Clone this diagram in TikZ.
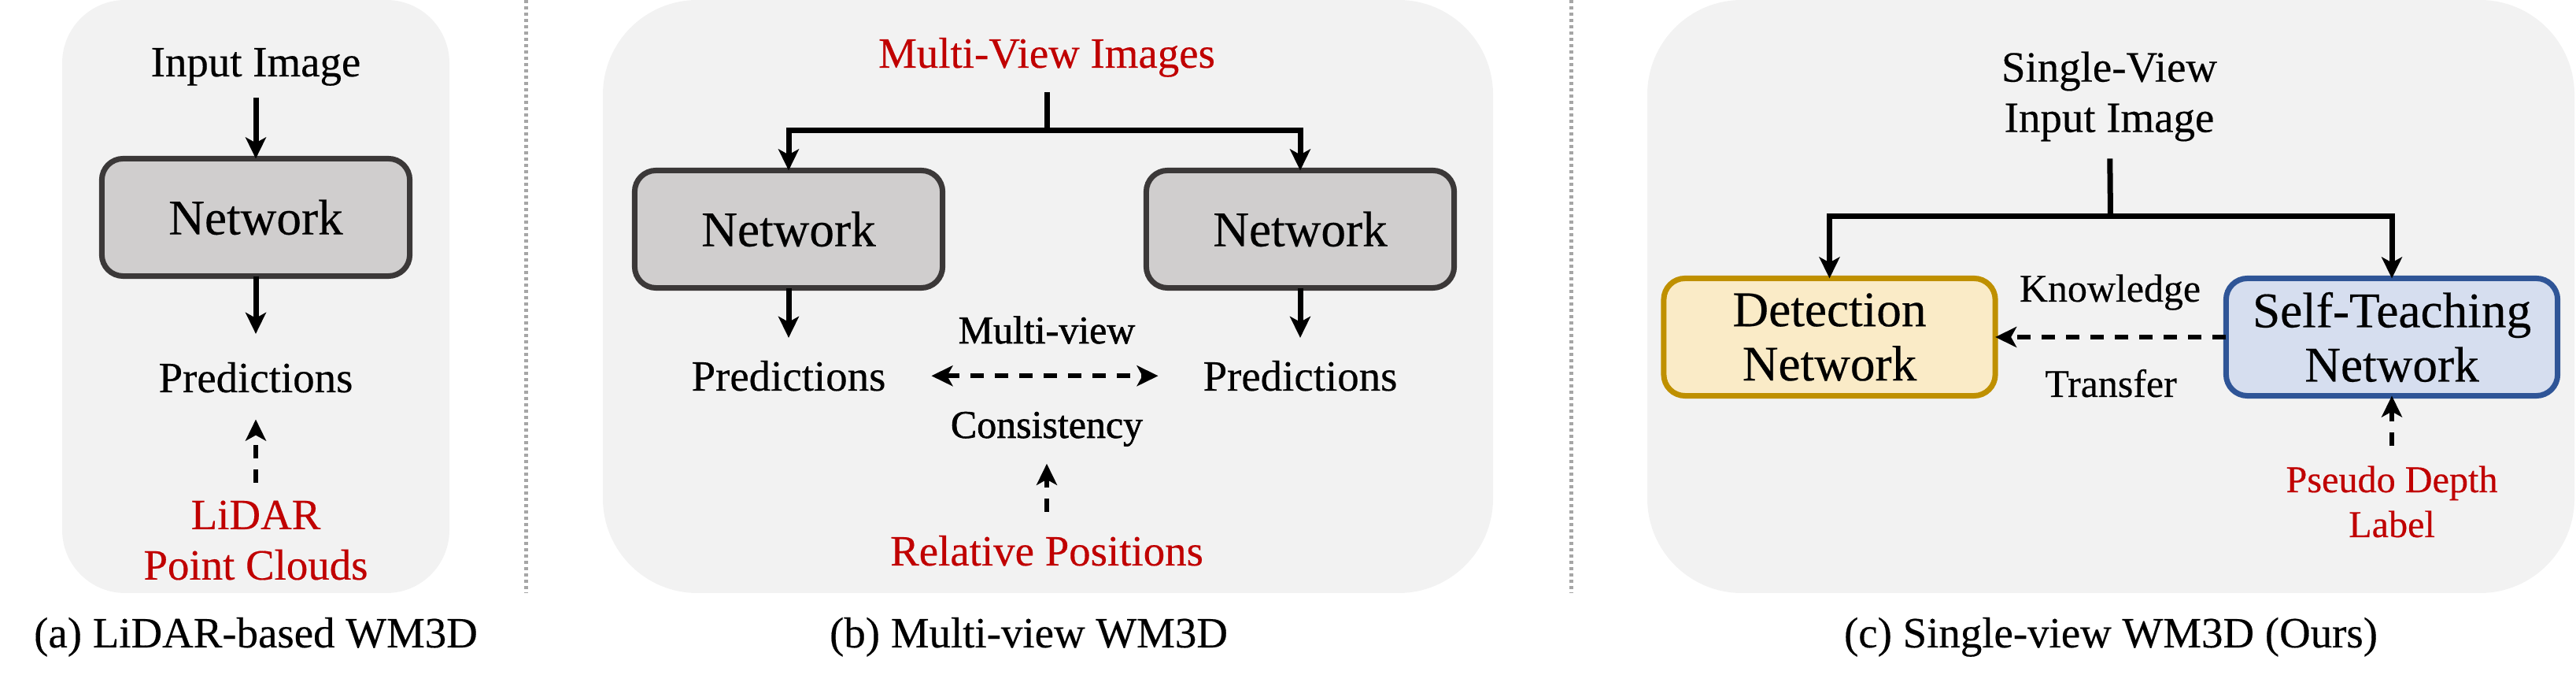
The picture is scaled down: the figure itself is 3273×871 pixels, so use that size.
\documentclass[tikz,border=0pt]{standalone}
\usepackage{fontspec}
\setmainfont{Liberation Serif}[FakeBold=0.3]
\newfontfamily\mvfont{Liberation Serif}[FakeBold=1.2]
\usetikzlibrary{arrows.meta}
\definecolor{panelbg}{HTML}{F2F2F2}
\definecolor{netfill}{HTML}{D0CECE}
\definecolor{netdraw}{HTML}{3B3838}
\definecolor{detfill}{HTML}{FAEBC7}
\definecolor{detdraw}{HTML}{BF9000}
\definecolor{stfill}{HTML}{D6DEEF}
\definecolor{stdraw}{HTML}{2F5597}
\definecolor{redtxt}{HTML}{C00000}
\definecolor{sepgray}{HTML}{A6A6A6}
\begin{document}
\begin{tikzpicture}[x=0.01cm,y=-0.01cm,
  panel/.style={fill=panelbg},
  sepline/.style={draw=sepgray, line width=0.05cm, dash pattern=on 0.04cm off 0.04cm},
  txt/.style={inner sep=0pt, outer sep=0pt, font=\fontsize{15.6pt}{18.2pt}\selectfont},
  smalltxt/.style={inner sep=0pt, outer sep=0pt, font=\fontsize{14.2pt}{17pt}\selectfont},
  mvtxt/.style={inner sep=0pt, outer sep=0pt, font=\mvfont\fontsize{14.2pt}{17pt}\selectfont},
  pstxt/.style={inner sep=0pt, outer sep=0pt, font=\fontsize{13.7pt}{16.2pt}\selectfont},
  redl/.style={text=redtxt},
  netbox/.style={draw=netdraw, fill=netfill, line width=0.07cm, rounded corners=0.27cm,
    minimum width=3.91cm, minimum height=1.49cm, inner sep=0pt, outer sep=0pt,
    font=\fontsize{18pt}{19.6pt}\selectfont},
  detbox/.style={netbox, draw=detdraw, fill=detfill, minimum width=4.21cm, align=center},
  stbox/.style={netbox, draw=stdraw, fill=stfill, minimum width=4.21cm, align=center},
  ln/.style={line width=0.07cm},
  tipa/.tip={Stealth[length=0.27cm,width=0.26cm,inset=0.07cm]},
  arr/.style={ln, -tipa},
  dsh/.style={line width=0.055cm, dash pattern=on 0.17cm off 0.14cm},
  darr/.style={dsh, -tipa},
  ddarr/.style={dsh, tipa-tipa}
]
\useasboundingbox (0,0) rectangle (3273,871);

% panels
\fill[panel, rounded corners=0.8cm] (79,0) rectangle (571,753);
\fill[panel, rounded corners=1.2cm] (766,0) rectangle (1897,753);
\fill[panel, rounded corners=1.2cm] (2093,0) rectangle (3271,753);
\draw[sepline] (668,0) -- (668,753);
\draw[sepline] (1996,0) -- (1996,753);

% ---------- (a) ----------
\node[txt, anchor=base] (aIn) at (325,97) {Input Image};
\node[netbox] (aNet) at (325,276) {Network};
\node[txt, anchor=base] (aPred) at (325,498) {Predictions};
\node[txt, redl, align=center] (aLid) at (325,686) {LiDAR\\Point Clouds};
\node[txt, anchor=base] (aCap) at (325,822) {(a) LiDAR-based WM3D};
\draw[arr, shorten <=0.15cm] (aIn) -- (aNet);
\draw[arr, shorten >=0.36cm] (aNet) -- (aPred);
\draw[darr, shorten <=0.23cm, shorten >=0.34cm] (aLid) -- (aPred);

% ---------- (b) ----------
\node[txt, redl, anchor=base] (bMV) at (1330,86) {Multi-View Images};
\coordinate (bJ) at (1330,166);
\node[netbox] (bN1) at (1002,291) {Network};
\node[netbox] (bN2) at (1652,291) {Network};
\draw[ln, shorten <=0.19cm] (bMV) -- (bJ);
\draw[arr] (bJ) -| (bN1);
\draw[arr] (bJ) -| (bN2);
\node[txt, anchor=base] (bP1) at (1002,496) {Predictions};
\node[txt, anchor=base] (bP2) at (1652,496) {Predictions};
\draw[arr, shorten >=0.29cm] (bN1) -- (bP1);
\draw[arr, shorten >=0.29cm] (bN2) -- (bP2);
\draw[ddarr, shorten <=0.58cm, shorten >=0.57cm] (bP1) -- (bP2);
\node[mvtxt, anchor=base] (bMvw) at (1330,436) {Multi-view};
\node[mvtxt, anchor=base] (bCons) at (1330,556) {Consistency};
\node[txt, redl, anchor=base] (bRP) at (1330,718) {Relative Positions};
\draw[darr, shorten <=0.3cm, shorten >=0.22cm] (bRP) -- (bCons);
\node[txt, anchor=base] (bCap) at (1307,822) {(b) Multi-view WM3D};

% ---------- (c) ----------
\node[txt, align=center] (cIn) at (2680,122.5) {Single-View\\Input Image};
\coordinate (cJ) at (2681.5,275);
\node[detbox] (cDet) at (2324.5,428) {Detection\\Network};
\node[stbox] (cST) at (3039,428) {Self-Teaching\\Network};
\draw[ln, shorten <=0.22cm] (cIn) -- (cJ);
\draw[arr] (cJ) -| (cDet);
\draw[arr] (cJ) -| (cST);
\draw[darr] (cST) -- (cDet);
\node[smalltxt, anchor=base] (cKn) at (2681,383) {Knowledge};
\node[smalltxt, anchor=base] (cTr) at (2682,504) {Transfer};
\node[pstxt, redl, align=center] (cPs) at (3039,637) {Pseudo Depth\\Label};
\draw[darr, shorten <=0.26cm] (cPs) -- (cST);
\node[txt, anchor=base] (cCap) at (2682,822) {(c) Single-view WM3D (Ours)};
\end{tikzpicture}
\end{document}
